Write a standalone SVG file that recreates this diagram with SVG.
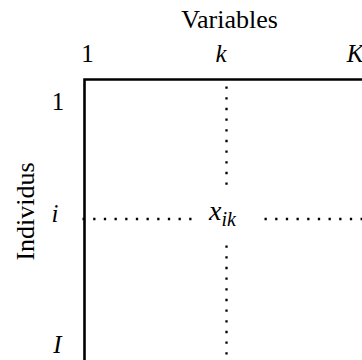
<svg xmlns="http://www.w3.org/2000/svg" width="362" height="360" viewBox="0 0 362 360">
<style>
text{fill:#000}
.it{font-style:italic}
.frame{fill:none;stroke:#000;stroke-width:2.6}
.dot{fill:none;stroke:#000;stroke-width:2.3;stroke-dasharray:2.3 8.37}
</style>
<rect width="362" height="360" fill="#fff"/>
<g id="matrix">
<path class="frame" d="M84.5,360V79.5H362"/>
</g>
<g id="connectors">
<path class="dot" d="M226.5,86.5V186"/>
<path class="dot" d="M226.5,245.5V360"/>
<path class="dot" d="M82.5,219H194"/>
<path class="dot" d="M264.5,219H362"/>
</g>
<g id="labels" font-family="'Liberation Serif', 'Times New Roman', serif" font-size="25">
<text x="229.5" y="28" text-anchor="middle" font-size="26">Variables</text>
<text x="87.5" y="62" text-anchor="middle">1</text>
<text x="221" y="62" text-anchor="middle" class="it">k</text>
<text x="355" y="62" text-anchor="middle" class="it">K</text>
<text x="58" y="110" text-anchor="middle">1</text>
<text x="55" y="222" text-anchor="middle" class="it">i</text>
<text x="57.5" y="353" text-anchor="middle" class="it">I</text>
<text transform="translate(34,211.5) rotate(-90)" text-anchor="middle" font-size="26">Individus</text>
<text x="209" y="220" class="it" font-size="28">x<tspan dy="6" font-size="20">ik</tspan></text>
</g>
</svg>
